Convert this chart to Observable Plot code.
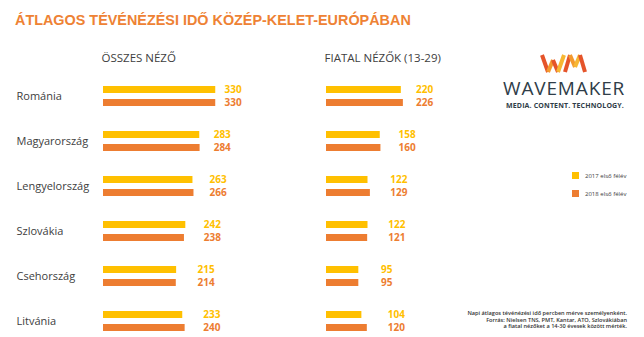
<!DOCTYPE html>
<html>
<head>
<meta charset="utf-8">
<script src="https://cdn.jsdelivr.net/npm/d3@7"></script>
<script src="https://cdn.jsdelivr.net/npm/@observablehq/plot@0.6"></script>
<style>
  html, body { margin: 0; padding: 0; background: #fff; }
  #wrap { position: relative; width: 644px; height: 337px; overflow: hidden; background: #fff; }
  #chart { position: absolute; left: 0; top: 0; }
  #deco { position: absolute; left: 0; top: 0; pointer-events: none; }
</style>
</head>
<body>
<div id="wrap">
  <div id="chart"></div>
  <svg id="deco" width="644" height="337" xmlns="http://www.w3.org/2000/svg"></svg>
</div>
<script>
// ---- data ----
const countries = ["Románia", "Magyarország", "Lengyelország", "Szlovákia", "Csehország", "Litvánia"];
const groups = ["ÖSSZES NÉZŐ", "FIATAL NÉZŐK (13-29)"];
const years = ["2017 első félév", "2018 első félév"];
const total2017 = [330, 283, 263, 242, 215, 233];
const total2018 = [330, 284, 266, 238, 214, 240];
const young2017 = [220, 158, 122, 122, 95, 104];
const young2018 = [226, 160, 129, 121, 95, 120];
const title = "ÁTLAGOS TÉVÉNÉZÉSI IDŐ KÖZÉP-KELET-EURÓPÁBAN";
const notes = [
  "Napi átlagos tévénézési idő percben mérve személyenként.",
  "Forrás: Nielsen TNS, PMT, Kantar, ATO, Szlovákiában",
  "a fiatal nézőket a 14-30 évesek között mérték."
];

const rows = [];
countries.forEach((c, i) => {
  [[groups[0], total2017[i], total2018[i]], [groups[1], young2017[i], young2018[i]]].forEach(([g, a, b]) => {
    const max = Math.max(a, b);
    rows.push({group: g, country: c, year: years[0], value: a, max});
    rows.push({group: g, country: c, year: years[1], value: b, max});
  });
});

const colors = ["#FFC000", "#ED7D31"];
const labelX = d => d.group === groups[0] ? 128 + 0.69 * d.max : 86 + 0.785 * d.max;

const chart = Plot.plot({
  width: 480,
  height: 337,
  marginLeft: 103,
  marginRight: 4,
  marginTop: 83,
  marginBottom: 3,
  style: {fontFamily: "'Open Sans', sans-serif", background: "transparent"},
  fx: {domain: groups, paddingInner: 0.3274, paddingOuter: 0, round: false, axis: null, label: null},
  fy: {domain: countries, paddingInner: 0.4222, paddingOuter: 0, round: false, axis: null, label: null},
  x: {domain: [0, 441], axis: null},
  y: {domain: years, paddingInner: 0.4615, paddingOuter: 0.2308, round: false, axis: null},
  color: {domain: years, range: colors},
  marks: [
    Plot.barX(rows, {x: "value", y: "year", fx: "group", fy: "country", fill: "year"}),
    Plot.text(rows, {
      x: labelX, y: "year", fx: "group", fy: "country", text: d => String(d.value),
      fill: "year", textAnchor: "start", fontWeight: "bold", fontSize: 10
    }),
    Plot.text(countries, {
      fy: d => d, fx: () => groups[0], text: d => d, frameAnchor: "left",
      textAnchor: "start", dx: -87, fontSize: 11, fill: "#404040"
    }),
    Plot.text(groups, {
      fx: d => d, fy: () => countries[0], text: d => d, frameAnchor: "top-left",
      textAnchor: "start", lineAnchor: "middle", dx: -2, dy: -25, fontSize: 11.5, fill: "#404040"
    })
  ]
});
document.getElementById("chart").appendChild(chart);

// ---- decorations: title, logo, legend, notes ----
const deco = d3.select("#deco");
deco.append("text")
  .attr("x", 15).attr("y", 25)
  .attr("font-family", "'Liberation Sans', Arial, sans-serif")
  .attr("font-weight", "bold").attr("font-size", 14.4)
  .attr("fill", "#EE8234")
  .text(title);

// logo mark
const segs = [
  [[542, 55], [548, 72], "#E5542A"],
  [[548, 72], [553, 60], "#F39A2E"],
  [[553, 60], [558, 72], "#E5542A"],
  [[558, 72], [564, 55], "#F7B733"],
  [[565, 72], [570, 55], "#E5542A"],
  [[570, 55], [575, 67], "#F39A2E"],
  [[575, 67], [580, 55], "#F7B733"],
  [[580, 55], [585, 72], "#E5542A"]
];
segs.forEach(([a, b, c]) => {
  deco.append("line").attr("x1", a[0]).attr("y1", a[1]).attr("x2", b[0]).attr("y2", b[1])
    .attr("stroke", c).attr("stroke-width", 4).attr("stroke-linecap", "butt");
});
deco.append("text")
  .attr("x", 503).attr("y", 94.5)
  .attr("font-family", "'Open Sans', sans-serif").attr("font-size", 19)
  .attr("letter-spacing", 0.85).attr("fill", "#2F3D48")
  .text("WAVEMAKER");
deco.append("text")
  .attr("x", 506).attr("y", 107.5)
  .attr("font-family", "'Open Sans', sans-serif").attr("font-size", 7).attr("font-weight", "bold")
  .attr("letter-spacing", 0.15)
  .attr("fill", "#2F3D48")
  .text("MEDIA. CONTENT. TECHNOLOGY.");

// legend
years.forEach((y, i) => {
  const yy = 172 + i * 18;
  deco.append("rect").attr("x", 572).attr("y", yy).attr("width", 7).attr("height", 7).attr("fill", colors[i]);
  deco.append("text").attr("x", 585).attr("y", yy + 5.5)
    .attr("font-family", "'Open Sans', sans-serif").attr("font-size", 6).attr("fill", "#404040")
    .text(y);
});

// notes
notes.forEach((t, i) => {
  deco.append("text").attr("x", 627).attr("y", 315 + i * 6.6)
    .attr("text-anchor", "end")
    .attr("font-family", "'Open Sans', sans-serif").attr("font-size", 5.6).attr("font-weight", 600)
    .attr("fill", "#333")
    .text(t);
});
</script>
</body>
</html>
